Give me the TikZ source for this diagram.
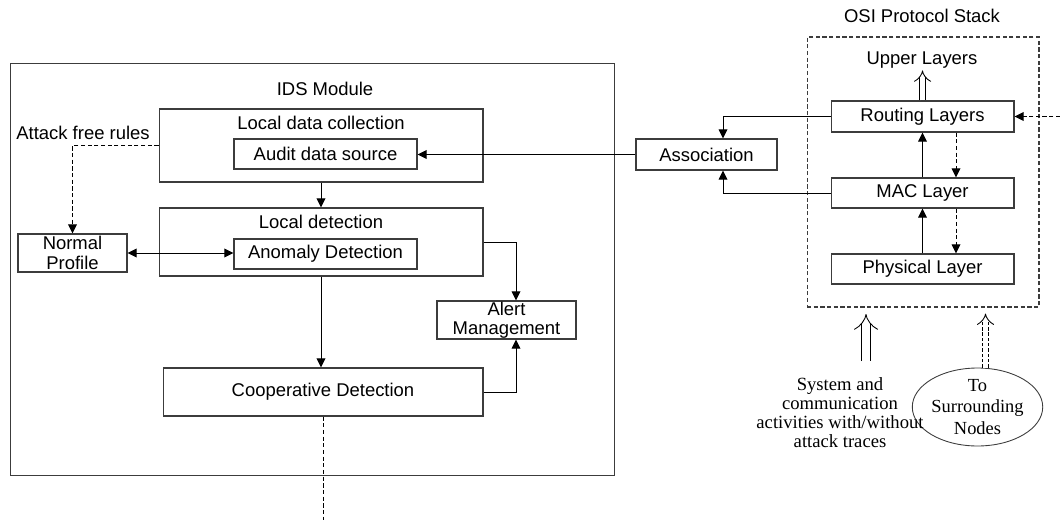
\documentclass[tikz,border=0pt]{standalone}
\usepackage{fontspec}
\setmainfont{Liberation Sans}
\newfontfamily\timesfont{Liberation Serif}
\usepackage{tikz}
\usetikzlibrary{shapes.geometric,arrows.meta,positioning,calc}
\definecolor{boxgrey}{RGB}{60,60,60}

\begin{document}
\begin{tikzpicture}[
    x=0.02cm, y=-0.02cm, >={Triangle[length=5.2pt,width=5pt]},
    font=\fontsize{10.5}{12}\selectfont,
    bx/.style={rectangle, draw=boxgrey, line width=0.6pt, inner sep=0pt, align=center},
    txt/.style={inner sep=0pt, align=center},
    arr/.style={->, line width=0.5pt},
    darr/.style={->, line width=0.5pt, dash pattern=on 2.4pt off 1.4pt},
    hollow/.style={-{Implies}, double, double distance=3pt, line width=0.5pt}
]
\useasboundingbox (0,0) rectangle (1060,520);

% IDS module
\node[bx, minimum width=12.1cm, minimum height=8.26cm] (ids) at (312.5,269.5) {};
\node[txt] (idst) at (325,89) {IDS Module};
\node[bx, minimum width=6.48cm, minimum height=1.46cm] (ldc) at (321,145.5) {};
\node[txt] (ldct) at (321,123) {Local data collection};
\node[bx, minimum width=3.66cm, minimum height=0.6cm] (ads) at (325.5,154) {Audit data source};
\node[bx, minimum width=6.48cm, minimum height=1.36cm] (ld) at (321,242) {};
\node[txt] (ldt) at (321,222) {Local detection};
\node[bx, minimum width=3.66cm, minimum height=0.6cm] (ad) at (325.5,254) {Anomaly Detection};
\node[bx, minimum width=2.18cm, minimum height=0.76cm] (np) at (72.5,253) {Normal\\[-1pt]Profile};
\node[txt] (afr) at (83,133) {Attack free rules};
\node[bx, minimum width=2.78cm, minimum height=0.76cm] (am) at (506.5,320) {Alert\\[-1pt]Management};
\node[bx, minimum width=6.4cm, minimum height=0.96cm] (cd) at (323,392) {Cooperative Detection};

% OSI stack
\node[bx, minimum width=2.82cm, minimum height=0.62cm] (as) at (706.5,154.5) {Association};
\node[rectangle, draw=boxgrey, line width=0.6pt, dash pattern=on 2.4pt off 1.4pt,
      minimum width=4.64cm, minimum height=5.4cm] (osi) at (923,172) {};
\node[txt] (osit) at (922,16) {OSI Protocol Stack};
\node[txt] (ul) at (922,60) {Upper Layers};
\node[bx, minimum width=3.66cm, minimum height=0.62cm] (rl) at (922.5,116.5) {Routing Layers};
\node[bx, minimum width=3.66cm, minimum height=0.6cm] (mac) at (922.5,193) {MAC Layer};
\node[bx, minimum width=3.66cm, minimum height=0.6cm] (phy) at (922.5,269) {Physical Layer};
\node[ellipse, draw=boxgrey, line width=0.5pt, minimum width=2.22cm, minimum height=1.56cm,
      inner sep=0pt, align=center, font=\timesfont\fontsize{10.5}{12}\selectfont] (sn) at (977.5,407)
      {To\\Surrounding\\Nodes};
\node[txt, font=\timesfont\fontsize{10.6}{10.8}\selectfont] (sys) at (840,413)
      {System and\\communication\\activities with/without\\attack traces};

\coordinate (ext) at (1060,116.5);
\coordinate (cdo) at (323,520);
\coordinate (in1) at (866,361);
\coordinate (in2) at (866,314);

% connectors
\draw[arr] (ldc) -- (ld);
\draw[darr] (ldc.west) -| (np.north);
\draw[<->, line width=0.5pt] (np.east) -- (np.east -| ad.west);
\draw[arr] (ld.south) -- (ld.south |- cd.north);
\draw[arr] (ld.east) -| ($(am.north)+(9.5,0)$);
\draw[arr] (cd.east) -| ($(am.south)+(9.5,0)$);
\draw[line width=0.5pt, dash pattern=on 2.4pt off 1.4pt] (cd.south) -- (cdo);
\draw[arr] (as.west) -- (as.west -| ads.east);
\draw[arr] (rl.west) -| ($(as.north)+(16.5,0)$);
\draw[arr] (mac.west) -| ($(as.south)+(16.5,0)$);
\draw[arr] (mac.north -| rl.south) -- (rl.south);
\draw[darr] ($(rl.south)+(33.5,0)$) -- ($(mac.north)+(33.5,0)$);
\draw[arr] (phy.north) -- (mac.south);
\draw[darr] ($(mac.south)+(33.5,0)$) -- ($(phy.north)+(33.5,0)$);
\draw[darr] (ext) -- (rl.east);
\draw[hollow] (rl.north) -- ++(0,-30);
\draw[hollow, double distance=4.5pt] (in1) -- (in2);
\draw[hollow, dash pattern=on 2pt off 1pt] ($(sn.north)+(8,0)$) -- ++(0,-54);
\end{tikzpicture}
\end{document}
